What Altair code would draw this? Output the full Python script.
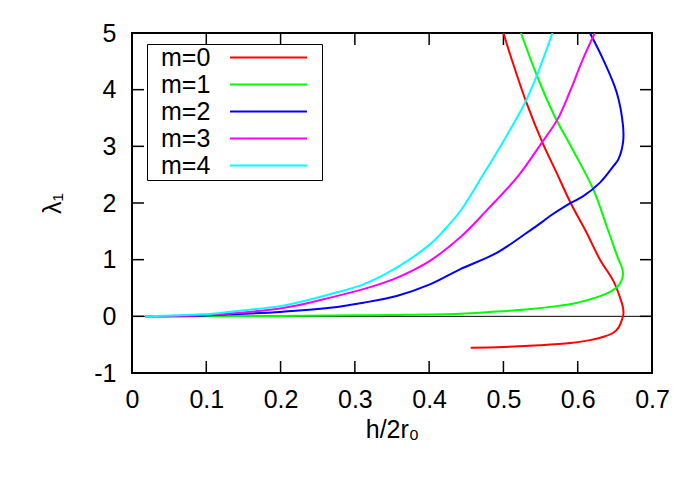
import altair as alt
import pandas as pd

# ---- data ----
labels = ["m=0", "m=1", "m=2", "m=3", "m=4"]
colors = ["#ff0000", "#00ff00", "#0000ff", "#ff00ff", "#00ffff"]

m0_x = [0.456, 0.500, 0.549, 0.590, 0.6165, 0.635, 0.648, 0.655, 0.659, 0.6615, 0.661, 0.657, 0.648,
        0.630, 0.611, 0.5905, 0.571, 0.5524, 0.531, 0.511, 0.500]
m0_y = [-0.553, -0.54, -0.51, -0.47, -0.42, -0.36, -0.29, -0.20, -0.08, 0.04, 0.15, 0.33, 0.625,
        1.0, 1.5, 2.0, 2.55, 3.07, 3.77, 4.54, 5.0]

m1_x = [0.0175, 0.1, 0.2, 0.3, 0.3473, 0.4415, 0.482, 0.53, 0.5717, 0.598, 0.6165, 0.633, 0.645,
        0.654, 0.659, 0.661, 0.659, 0.655, 0.639, 0.621, 0.595, 0.5686, 0.545, 0.5236]
m1_y = [0.0, 0.002, 0.008, 0.017, 0.025, 0.047, 0.077, 0.12, 0.18, 0.235, 0.30, 0.37, 0.44,
        0.53, 0.63, 0.75, 0.88, 1.0, 1.59, 2.24, 2.9, 3.54, 4.25, 5.0]

m2_x = [0.0175, 0.0944, 0.132, 0.1992, 0.2665, 0.3114, 0.3563, 0.401, 0.4415, 0.491, 0.531,
        0.5537, 0.5627, 0.585, 0.6075, 0.630, 0.648, 0.6547, 0.661, 0.661, 0.6525, 0.634, 0.6165]
m2_y = [0.0, 0.012, 0.035, 0.077, 0.15, 0.24, 0.36, 0.565, 0.83, 1.12, 1.47,
        1.68, 1.77, 1.96, 2.12, 2.36, 2.65, 2.77, 3.07, 3.36, 3.95, 4.54, 5.0]

m3_x = [0.0175, 0.0944, 0.132, 0.1992, 0.2217, 0.2665, 0.3114, 0.3563, 0.401, 0.4415, 0.4775,
        0.520, 0.552, 0.573, 0.589, 0.607, 0.623]
m3_y = [0.0, 0.02, 0.05, 0.14, 0.19, 0.33, 0.48, 0.68, 0.98, 1.39, 1.87,
        2.48, 3.07, 3.48, 3.95, 4.54, 5.0]

m4_x = [0.0175, 0.0944, 0.132, 0.1992, 0.2217, 0.2665, 0.3114, 0.3563, 0.401, 0.42, 0.4415, 0.475,
        0.504, 0.529, 0.545, 0.566]
m4_y = [0.0, 0.035, 0.08, 0.18, 0.24, 0.39, 0.565, 0.86, 1.27, 1.52, 1.85, 2.55,
        3.18, 3.77, 4.25, 5.0]

x_ticks = [0.0, 0.1, 0.2, 0.3, 0.4, 0.5, 0.6, 0.7]
y_ticks = [-1, 0, 1, 2, 3, 4, 5]

series = [(m0_x, m0_y), (m1_x, m1_y), (m2_x, m2_y), (m3_x, m3_y), (m4_x, m4_y)]
rows = []
for lab, (xs, ys) in zip(labels, series):
    for i, (xv, yv) in enumerate(zip(xs, ys)):
        rows.append({"x": xv, "y": yv, "m": lab, "i": i})
df = pd.DataFrame(rows)

W, H = 520, 340
TICK = 12
FONT = "Liberation Sans"
FS = 25

xscale = alt.Scale(domain=[0, 0.7], nice=False, zero=False)
yscale = alt.Scale(domain=[-1, 5], nice=False, zero=False)

lines = alt.Chart(df).mark_line(strokeWidth=2, clip=True, interpolate="catmull-rom").encode(
    x=alt.X("x:Q", scale=xscale, title="h/2r₀",
            axis=alt.Axis(values=x_ticks, labelExpr="datum.value == 0 ? '0' : format(datum.value, '.1f')",
                          ticks=False, domain=False, grid=False, labelPadding=14,
                          labelFlush=False, labelOverlap=False, titlePadding=5)),
    y=alt.Y("y:Q", scale=yscale, title="λ₁",
            axis=alt.Axis(values=y_ticks, labelExpr="datum.value < 0 ? '-' + abs(datum.value) : '' + datum.value",
                          ticks=False, domain=False, grid=False, labelPadding=16,
                          labelFlush=False, labelOverlap=False, titlePadding=28)),
    color=alt.Color("m:N", scale=alt.Scale(domain=labels, range=colors),
                    legend=alt.Legend(title=None, orient="none", legendX=15, legendY=11,
                                      symbolType="M-38.5,0H38.5M48,0", symbolSize=4, symbolStrokeWidth=2,
                                      symbolOffset=108, labelOffset={"expr": "-120"},
                                      labelFont=FONT, labelFontSize=FS, labelColor="black",
                                      fillColor="white", strokeColor="black", padding=1,
                                      rowPadding=1)),
    order="i:Q",
)

zero = alt.Chart(pd.DataFrame({"y": [0]})).mark_rule(color="black", strokeWidth=1).encode(
    y=alt.Y("y:Q", scale=yscale))

xt = pd.DataFrame({"x": x_ticks[1:-1]})
yt = pd.DataFrame({"y": y_ticks[1:-1]})
tick_style = dict(color="black", strokeWidth=1.5)
xb = alt.Chart(xt).mark_rule(**tick_style).encode(x=alt.X("x:Q", scale=xscale), y=alt.value(H), y2=alt.value(H - TICK))
xtp = alt.Chart(xt).mark_rule(**tick_style).encode(x=alt.X("x:Q", scale=xscale), y=alt.value(0), y2=alt.value(TICK))
yl = alt.Chart(yt).mark_rule(**tick_style).encode(y=alt.Y("y:Q", scale=yscale), x=alt.value(0), x2=alt.value(TICK))
yr = alt.Chart(yt).mark_rule(**tick_style).encode(y=alt.Y("y:Q", scale=yscale), x=alt.value(W), x2=alt.value(W - TICK))

chart = alt.layer(zero, xb, xtp, yl, yr, lines).properties(
    width=W, height=H,
    background="white",
    autosize=alt.AutoSizeParams(type="none"),
    padding={"left": 124, "top": 25, "right": 30, "bottom": 100},
).configure_view(stroke="black", strokeWidth=2).configure_axis(
    labelFont=FONT, labelFontSize=FS, labelColor="black",
    titleFont=FONT, titleFontSize=FS, titleColor="black", titleFontWeight="normal",
)

chart.save("out.html", embed_options={"renderer": "svg", "actions": False})
